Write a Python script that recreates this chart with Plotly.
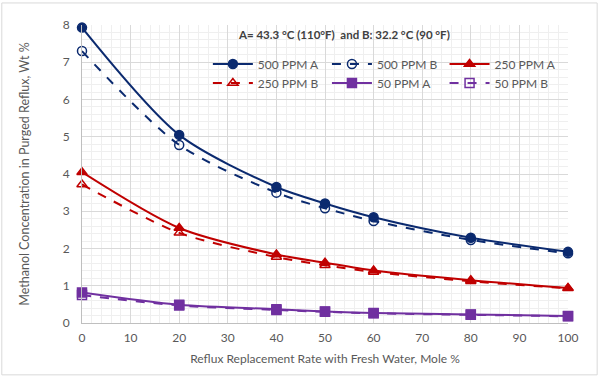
import plotly.graph_objects as go

x_vals = [0, 20, 40, 50, 60, 80, 100]
ppm500_a = [7.93, 5.05, 3.65, 3.21, 2.84, 2.29, 1.91]
ppm500_b = [7.30, 4.78, 3.50, 3.08, 2.74, 2.23, 1.87]
ppm250_a = [4.05, 2.55, 1.84, 1.62, 1.41, 1.15, 0.94]
ppm250_b = [3.72, 2.42, 1.77, 1.55, 1.37, 1.12, 0.93]
ppm50_a = [0.82, 0.49, 0.37, 0.31, 0.27, 0.23, 0.19]
ppm50_b = [0.75, 0.47, 0.35, 0.30, 0.26, 0.22, 0.18]

NAVY = "#0B2A6F"
RED = "#C00000"
PURPLE = "#7030A0"

series = [
    ("500 PPM A", ppm500_a, NAVY, "solid", "circle", "legend"),
    ("500 PPM B", ppm500_b, NAVY, "dash", "circle-open", "legend2"),
    ("250 PPM A", ppm250_a, RED, "solid", "triangle-up", "legend3"),
    ("250 PPM B", ppm250_b, RED, "dash", "triangle-up-open", "legend"),
    ("50 PPM A", ppm50_a, PURPLE, "solid", "square", "legend2"),
    ("50 PPM B", ppm50_b, PURPLE, "dash", "square-open", "legend3"),
]

fig = go.Figure()
for name, vals, color, dash, sym, leg in series:
    fig.add_trace(go.Scatter(
        x=x_vals, y=vals, name=name, mode="lines+markers",
        line=dict(color=color, width=2, dash=dash, shape="spline", smoothing=0.8),
        marker=dict(symbol=sym, size=9, color=color, line=dict(color=color, width=1.5)),
        cliponaxis=False, legend=leg,
    ))

FONT = "Lato"
legend_common = dict(
    orientation="v", xanchor="left", yanchor="top", y=0.918,
    bgcolor="rgba(0,0,0,0)", font=dict(family=FONT, size=12, color="#595959"),
    itemwidth=40, tracegroupgap=0, traceorder="normal",
)

fig.update_layout(
    width=600, height=380,
    margin=dict(l=82, r=32, t=25, b=57),
    paper_bgcolor="white", plot_bgcolor="white",
    font=dict(family=FONT, size=12, color="#595959"),
    legend=dict(x=0.259, **legend_common),
    legend2=dict(x=0.504, **legend_common),
    legend3=dict(x=0.746, **legend_common),
    xaxis=dict(
        range=[0, 100], dtick=10, tick0=0,
        showgrid=True, gridcolor="#D9D9D9", gridwidth=1,
        minor=dict(dtick=2, showgrid=True, gridcolor="#EFEFEF", gridwidth=1),
        showline=True, linecolor="#BFBFBF", linewidth=1,
        zeroline=False, ticks="", tickfont=dict(size=12, color="#595959"),
        ticklabelstandoff=4,
        title=dict(text="Reflux Replacement Rate with Fresh Water, Mole %",
                   font=dict(size=12, color="#595959"), standoff=10),
    ),
    yaxis=dict(
        range=[0, 8], dtick=1, tick0=0,
        showgrid=True, gridcolor="#D9D9D9", gridwidth=1,
        minor=dict(dtick=0.2, showgrid=True, gridcolor="#EFEFEF", gridwidth=1),
        showline=True, linecolor="#BFBFBF", linewidth=1,
        zeroline=False, ticks="", tickfont=dict(size=12, color="#595959"),
        ticklabelstandoff=9,
        title=dict(text="Methanol Concentration in Purged Reflux, Wt %",
                   font=dict(size=12.5, color="#595959"), standoff=30),
    ),
    shapes=[dict(type="rect", xref="paper", yref="paper",
                 x0=-0.165, x1=1.06, y0=-0.174, y1=1.074,
                 line=dict(color="#D9D9D9", width=1), fillcolor="rgba(0,0,0,0)", layer="below")],
    annotations=[dict(
        text="<b>A= 43.3 °C (110°F)  and B: 32.2 °C (90 °F)</b>",
        xref="paper", yref="paper", x=0.54, y=0.967, xanchor="center", yanchor="middle",
        showarrow=False, font=dict(family=FONT, size=11.5, color="#404040"),
    )],
)

fig.write_html("out.html", config={"displayModeBar": False},
               post_script="document.body.style.margin='0';")
